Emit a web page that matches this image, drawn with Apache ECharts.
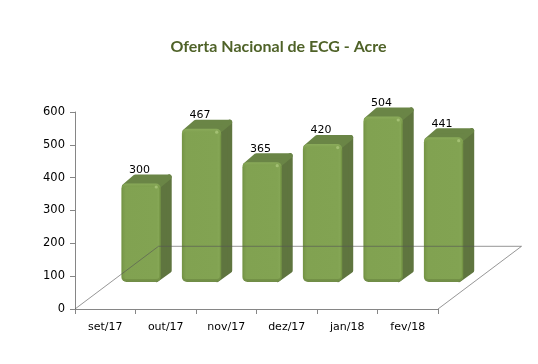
<!DOCTYPE html>
<html>
<head>
<meta charset="utf-8">
<style>
  html, body { margin: 0; padding: 0; background: #fff; }
  #chart { width: 538px; height: 364px; }
</style>
<script src="https://cdn.jsdelivr.net/npm/echarts@6/dist/echarts.min.js"></script>
</head>
<body>
<div id="chart"></div>
<script>
const categories = ['set/17', 'out/17', 'nov/17', 'dez/17', 'jan/18', 'fev/18']
const values = [300, 467, 365, 420, 504, 441]
const yTicks = [0, 100, 200, 300, 400, 500, 600]

const labelFont = '"DejaVu Sans", sans-serif'

// the fake 3d: bars stand on the middle of a tilted floor
const floorDx = 83.5
const floorDy = 62.7
const barDx = 35.8
const barDy = -27
const depthX = 11
const depthY = 9

const chart = echarts.init(document.getElementById('chart'))

const renderFloor = (params) => {
  const c = params.coordSys
  const bx = c.x
  const by = c.y + c.height
  return {
    type: 'polyline',
    shape: {
      points: [
        [bx, by],
        [bx + floorDx, by - floorDy],
        [bx + c.width + floorDx, by - floorDy],
        [bx + c.width, by]
      ]
    },
    style: { stroke: 'rgba(85,85,85,0.62)', lineWidth: 1, fill: 'none' }
  }
}

const renderBar = (params, api) => {
  const center = api.coord([api.value(0), 0])
  const top = api.coord([api.value(0), api.value(1)])[1] + barDy
  const bottom = center[1] + barDy
  const w = api.size([1, 0])[0] * 0.65
  const x0 = center[0] + barDx - w / 2
  const x1 = x0 + w

  const frontFill = new echarts.graphic.LinearGradient(0, 0, 1, 0, [
    { offset: 0, color: '#7a9a4b' },
    { offset: 0.08, color: '#81a251' },
    { offset: 0.92, color: '#82a352' },
    { offset: 1, color: '#86a756' }
  ])
  const bevelFill = new echarts.graphic.LinearGradient(0, 0, 0, 1, [
    { offset: 0, color: '#8aab5a' },
    { offset: 0.05, color: '#769646' },
    { offset: 0.96, color: '#769646' },
    { offset: 1, color: '#708c47' }
  ])

  return {
    type: 'group',
    children: [
      {
        type: 'polygon',
        shape: { points: [[x1 - 4, top + 4], [x1 + depthX - 2.5, top - depthY + 2.5], [x1 + depthX - 2.5, bottom - depthY - 2.5], [x1 - 4, bottom - 2.5]] },
        style: { fill: '#5f753f', stroke: '#5f753f', lineWidth: 5, lineJoin: 'round' }
      },
      {
        type: 'polygon',
        shape: { points: [[x0 + 3, top + 3], [x0 + depthX + 3, top - depthY + 2.5], [x1 + depthX - 2.5, top - depthY + 2.5], [x1 - 3, top + 3]] },
        style: { fill: '#6a8546', stroke: '#6a8546', lineWidth: 5, lineJoin: 'round' }
      },
      {
        type: 'rect',
        shape: { x: x0, y: top, width: w, height: bottom - top, r: 5 },
        style: { fill: bevelFill }
      },
      {
        type: 'rect',
        shape: { x: x0 + 1.5, y: top + 3, width: w - 3, height: bottom - top - 6, r: 3 },
        style: { fill: frontFill }
      },
      {
        type: 'circle',
        shape: { cx: x1 - 4.5, cy: top + 3.5, r: 1.6 },
        style: { fill: '#a3c073' }
      },
      {
        type: 'text',
        style: {
          x: (x0 + x1) / 2 - 1.5,
          y: top - 13.5,
          text: String(api.value(1)),
          fill: '#000',
          font: '11px ' + labelFont,
          align: 'center',
          verticalAlign: 'middle'
        }
      }
    ]
  }
}

chart.setOption({
  backgroundColor: '#fff',
  animation: false,
  title: {
    text: 'Oferta Nacional de ECG - Acre',
    left: 273.5,
    top: 34,
    textAlign: 'center',
    textStyle: { color: '#4f6228', fontSize: 16, fontWeight: 'bold', fontFamily: 'Lato, sans-serif' }
  },
  grid: { left: 75, top: 112, width: 363, height: 197 },
  xAxis: {
    type: 'category',
    data: categories,
    axisLine: { lineStyle: { color: '#868686' } },
    axisTick: { show: true, length: 5, lineStyle: { color: '#868686' } },
    axisLabel: { color: '#000', fontSize: 11, fontFamily: labelFont, margin: 13 },
    splitLine: { show: false }
  },
  yAxis: {
    type: 'value',
    min: yTicks[0],
    max: yTicks[yTicks.length - 1],
    interval: 100,
    axisLine: { show: true, lineStyle: { color: '#868686' } },
    axisTick: { show: true, length: 5, lineStyle: { color: '#868686' } },
    axisLabel: { color: '#000', fontSize: 11.5, fontFamily: labelFont, margin: 10 },
    splitLine: { show: false }
  },
  series: [
    {
      type: 'custom',
      renderItem: renderBar,
      data: categories.map((c, i) => [i, values[i]]),
      encode: { x: 0, y: 1 },
      clip: false,
      z: 2
    },
    {
      type: 'custom',
      renderItem: renderFloor,
      data: [[0, 0]],
      encode: { x: 0, y: 1 },
      clip: false,
      silent: true,
      z: 3
    }
  ]
})
</script>
</body>
</html>
